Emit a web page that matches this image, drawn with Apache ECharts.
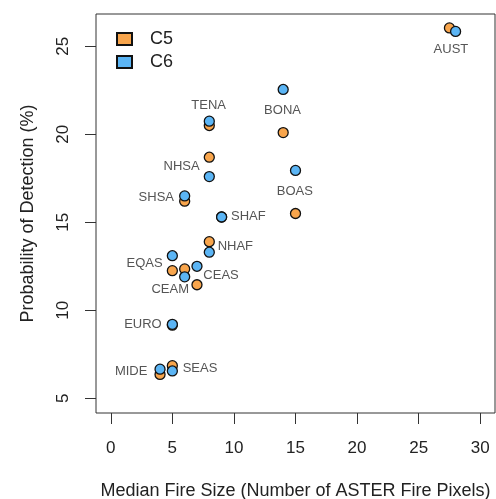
<!DOCTYPE html>
<html>
<head>
<meta charset="utf-8">
<script src="https://cdn.jsdelivr.net/npm/echarts@6/dist/echarts.min.js"></script>
<style>html,body{margin:0;padding:0;background:#fff}#c{width:496px;height:499px}</style>
</head>
<body>
<div id="c"></div>
<script>
var regions = ['AUST','BONA','BOAS','TENA','NHSA','SHSA','SHAF','NHAF','EQAS','CEAS','CEAM','EURO','MIDE','SEAS'];
var c5Size = [27.5, 14, 15, 8, 8, 6, 9, 8, 5, 6, 7, 5, 4, 5];
var c5Pod  = [26.05, 20.1, 15.5, 20.5, 18.7, 16.2, 15.3, 13.9, 12.25, 12.35, 11.45, 9.15, 6.35, 6.85];
var c6Size = [28, 14, 15, 8, 8, 6, 9, 8, 5, 7, 6, 5, 4, 5];
var c6Pod  = [25.85, 22.55, 17.95, 20.75, 17.6, 16.5, 15.3, 13.3, 13.1, 12.5, 11.9, 9.2, 6.65, 6.55];
var xTicks = [0, 5, 10, 15, 20, 25, 30];
var yTicks = [5, 10, 15, 20, 25];
var seriesNames = ['C5', 'C6'];

// label placement styles (pixel offsets from the C6 point, alignment)
var labelStyle = {
  AUST: {dx: -4, dy: 19, align: 'center'},
  BONA: {dx: 0, dy: 22, align: 'center'},
  BOAS: {dx: 0, dy: 22, align: 'center'},
  TENA: {dx: 0, dy: -15, align: 'center'},
  NHSA: {dx: -9, dy: -9, align: 'right'},
  SHSA: {dx: -10, dy: 2, align: 'right'},
  SHAF: {dx: 10, dy: 0, align: 'left'},
  NHAF: {dx: 9, dy: -5, align: 'left'},
  EQAS: {dx: -9, dy: 8, align: 'right'},
  CEAS: {dx: 7, dy: 10, align: 'left'},
  CEAM: {dx: 5, dy: 13, align: 'right'},
  EURO: {dx: -10, dy: 1, align: 'right'},
  MIDE: {dx: -12, dy: 3, align: 'right'},
  SEAS: {dx: 11, dy: -2, align: 'left'}
};
var SYM = 10;

var c5Data = regions.map(function (r, i) { return [c5Size[i], c5Pod[i]]; });
var c6Data = regions.map(function (r, i) {
  var s = labelStyle[r];
  return {
    value: [c6Size[i], c6Pod[i]],
    label: {
      show: true,
      formatter: r,
      position: [SYM / 2 + s.dx, SYM / 2 + s.dy],
      align: s.align,
      verticalAlign: 'middle',
      color: '#555',
      fontSize: 13,
      fontFamily: 'Liberation Sans, Arial, sans-serif'
    }
  };
});

var chart = echarts.init(document.getElementById('c'));
var font = 'Liberation Sans, Arial, sans-serif';
chart.setOption({
  animation: false,
  backgroundColor: '#fff',
  grid: {left: 96, right: 1, top: 14, bottom: 86, show: true, borderColor: '#333', borderWidth: 1,
         backgroundColor: 'transparent', containLabel: false, outerBoundsMode: 'none'},
  legend: {
    orient: 'vertical', left: 111, top: 25, itemWidth: 15, itemHeight: 12, itemGap: 5,
    icon: 'rect',
    data: seriesNames,
    textStyle: {fontSize: 18, color: '#222', fontFamily: font, padding: [0, 0, 0, 13]}
  },
  xAxis: {
    type: 'value', min: -1.2, max: 31.2,
    name: 'Median Fire Size (Number of ASTER Fire Pixels)',
    nameLocation: 'middle', nameGap: 69,
    nameTextStyle: {fontSize: 18, color: '#222', fontFamily: font},
    axisLine: {show: false, onZero: false},
    axisTick: {show: true, length: 11, lineStyle: {color: '#333'}, customValues: xTicks},
    axisLabel: {fontSize: 17, color: '#222', fontFamily: font, margin: 27, customValues: xTicks, hideOverlap: false},
    splitLine: {show: false}
  },
  yAxis: {
    type: 'value', min: 4.16, max: 26.84,
    name: 'Probability of Detection (%)',
    nameLocation: 'middle', nameGap: 59,
    nameTextStyle: {fontSize: 18, color: '#222', fontFamily: font},
    axisLine: {show: false, onZero: false},
    axisTick: {show: true, length: 11, lineStyle: {color: '#333'}, customValues: yTicks},
    axisLabel: {fontSize: 17, color: '#222', fontFamily: font, margin: 24, rotate: 90, customValues: yTicks, hideOverlap: false},
    splitLine: {show: false}
  },
  series: [
    {name: seriesNames[0], type: 'scatter', data: c5Data, symbol: 'circle', symbolSize: SYM,
     itemStyle: {color: '#F8A54C', borderColor: '#111', borderWidth: 1.3, opacity: 1}, z: 2},
    {name: seriesNames[1], type: 'scatter', data: c6Data, symbol: 'circle', symbolSize: SYM,
     itemStyle: {color: '#5BB5F5', borderColor: '#111', borderWidth: 1.3, opacity: 1}, z: 3}
  ]
});
</script>
</body>
</html>
